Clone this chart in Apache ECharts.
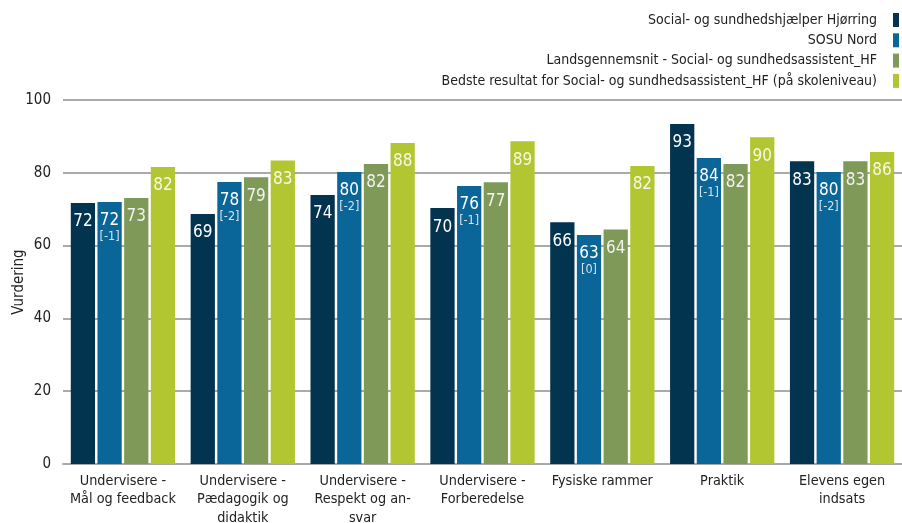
<!DOCTYPE html>
<html><head><meta charset="utf-8">
<script src="https://cdn.jsdelivr.net/npm/echarts@6/dist/echarts.min.js"></script>
<style>html,body{margin:0;padding:0;background:#fff}#c{width:902px;height:523px}</style>
</head><body><div id="c"></div>
<script>
const categories = ["Undervisere -\nMål og feedback","Undervisere -\nPædagogik og\ndidaktik","Undervisere -\nRespekt og an-\nsvar","Undervisere -\nForberedelse","Fysiske rammer","Praktik","Elevens egen\nindsats"];
const seriesNames = ["Social- og sundhedshjælper Hjørring","SOSU Nord","Landsgennemsnit - Social- og sundhedsassistent_HF","Bedste resultat for Social- og sundhedsassistent_HF (på skoleniveau)"];
const hjoerring = [71.7, 68.7, 73.9, 70.3, 66.4, 93.4, 83.2];
const sosuNord = [72.0, 77.5, 80.2, 76.4, 62.9, 84.1, 80.2];
const sosuDelta = ["-1","-2","-2","-1","0","-1","-2"];
const landsgns = [73.1, 78.8, 82.4, 77.4, 64.4, 82.4, 83.2];
const bedste = [81.6, 83.4, 88.2, 88.7, 81.9, 89.8, 85.7];
const yTicks = [0,20,40,60,80,100];

const FONT = "'DejaVu Sans Condensed', 'DejaVu Sans'";
const colors = ["#02334f","#0a6699","#7e9958","#b2c632"];
function mk(name, data, idx, txtColor, withDelta){
  return {
    name, type:'bar', data, barGap:'10%', barCategoryGap:'13%',
    itemStyle:{color:colors[idx]},
    label:{show:true, position:'insideTop', distance:10, fontFamily:FONT,
      formatter: p => withDelta ? '{v|'+Math.round(p.value)+'}\n{d|['+sosuDelta[p.dataIndex]+']}' : '{v|'+Math.round(p.value)+'}',
      rich:{v:{fontSize:17,color:txtColor,fontFamily:FONT,lineHeight:18},d:{fontSize:12.5,color:'#d3e3ee',fontFamily:FONT,lineHeight:14}}
    }
  };
}
const chart = echarts.init(document.getElementById('c'));
chart.setOption({
  animation:false,
  textStyle:{fontFamily:FONT},
  legend:{orient:'vertical', right:3, top:13, padding:0, align:'right', itemWidth:6, itemHeight:14, itemGap:6.3,
    icon:'rect', textStyle:{fontSize:14, color:'#222', fontFamily:FONT, padding:[0,11,0,0]}},
  grid:{left:63, right:0, top:100, bottom:59, containLabel:false, outerBoundsMode:'none'},
  xAxis:{type:'category', data:categories,
    axisLine:{lineStyle:{color:'#aaaaaa', width:2}}, axisTick:{show:false},
    axisLabel:{fontSize:14.3, color:'#222', lineHeight:18.5, margin:8, interval:0, fontFamily:FONT}},
  yAxis:{type:'value', min:0, max:100, interval:20, name:'Vurdering', nameLocation:'middle', nameGap:36, nameMoveOverlap:false,
    nameTextStyle:{fontSize:15, color:'#222', fontFamily:FONT},
    axisLabel:{fontSize:15, color:'#222', margin:12, fontFamily:FONT},
    splitLine:{lineStyle:{color:'#aaaaaa', width:2}}},
  series:[
    mk(seriesNames[0], hjoerring, 0, '#ffffff', false),
    mk(seriesNames[1], sosuNord, 1, '#ffffff', true),
    mk(seriesNames[2], landsgns, 2, '#f2f2f2', false),
    mk(seriesNames[3], bedste, 3, '#f6f8e6', false)
  ]
});
</script></body></html>
